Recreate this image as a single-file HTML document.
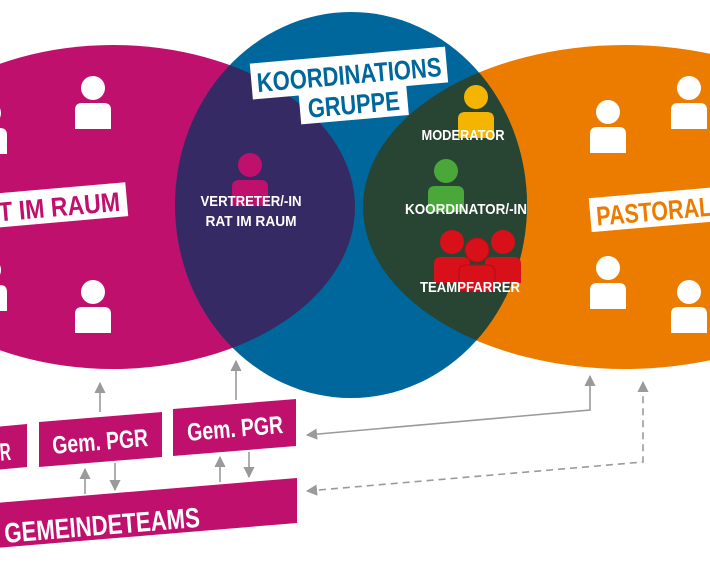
<!DOCTYPE html>
<html><head><meta charset="utf-8"><style>
html,body{margin:0;padding:0;background:#fff;}
svg{display:block;}
text{font-family:"Liberation Sans",sans-serif;font-weight:bold;}
</style></head><body>
<svg width="710" height="570" viewBox="0 0 710 570" xmlns="http://www.w3.org/2000/svg">
<defs>
<clipPath id="cb"><ellipse cx="351" cy="205" rx="176" ry="193"/></clipPath>
<marker id="ah" viewBox="0 0 10 10" refX="9" refY="5" markerWidth="7" markerHeight="7" orient="auto-start-reverse"><path d="M0,0 L10,5 L0,10 z" fill="#9a9a9a"/></marker>
<g id="p"><circle cx="0" cy="0" r="12"/><path d="M-18,41 V22 Q-18,15 -11,15 H11 Q18,15 18,22 V41 Z"/></g>
</defs>
<ellipse cx="113" cy="207" rx="242" ry="162" fill="#c0106e"/>
<ellipse cx="625" cy="207" rx="262" ry="162" fill="#ec7c00"/>
<ellipse cx="351" cy="205" rx="176" ry="193" fill="#00679c"/>
<g clip-path="url(#cb)">
<ellipse cx="113" cy="207" rx="242" ry="162" fill="#352a63"/>
<ellipse cx="625" cy="207" rx="262" ry="162" fill="#284534"/>
</g>
<g fill="#fff">
<use href="#p" x="93" y="88"/><use href="#p" x="93" y="292"/>
<use href="#p" x="-11" y="113"/><use href="#p" x="-11" y="270"/>
<use href="#p" x="608" y="112"/><use href="#p" x="689" y="88"/>
<use href="#p" x="608" y="268"/><use href="#p" x="689" y="292"/>
</g>
<g transform="rotate(-5 60 205)">
<rect x="-10" y="188" width="137" height="34" fill="#fff"/>
<text x="-2" y="216" font-size="27" fill="#c0106e" textLength="122" lengthAdjust="spacingAndGlyphs">T IM RAUM</text>
</g>
<g transform="rotate(-5 650 210)">
<rect x="590" y="193" width="140" height="34" fill="#fff"/>
<text x="596" y="221" font-size="27" fill="#ec7c00" textLength="116" lengthAdjust="spacingAndGlyphs">PASTORAL</text>
</g>
<g transform="rotate(-5 350 85)">
<rect x="252" y="55" width="196" height="36" fill="#fff"/>
<rect x="298" y="86" width="108" height="34" fill="#fff"/>
<text x="350" y="84" font-size="27" fill="#00679c" text-anchor="middle" textLength="185" lengthAdjust="spacingAndGlyphs">KOORDINATIONS</text>
<text x="352" y="114" font-size="27" fill="#00679c" text-anchor="middle" textLength="92" lengthAdjust="spacingAndGlyphs">GRUPPE</text>
</g>
<use href="#p" x="250" y="165" fill="#c0106e"/>
<use href="#p" x="476" y="97" fill="#f5b400"/>
<use href="#p" x="446" y="171" fill="#4aa83a"/>
<g fill="#d7101a"><use href="#p" x="452" y="242"/><use href="#p" x="503" y="242"/></g>
<use href="#p" x="477" y="250" fill="#d7101a" stroke="#b30d16" stroke-width="1"/>
<g fill="#fff" font-size="15" text-anchor="middle">
<text x="251" y="206" textLength="101" lengthAdjust="spacingAndGlyphs">VERTRETER/-IN</text>
<text x="251" y="226" textLength="91" lengthAdjust="spacingAndGlyphs">RAT IM RAUM</text>
<text x="463" y="140" textLength="83" lengthAdjust="spacingAndGlyphs">MODERATOR</text>
<text x="466" y="214" textLength="122" lengthAdjust="spacingAndGlyphs">KOORDINATOR/-IN</text>
<text x="470" y="292" textLength="100" lengthAdjust="spacingAndGlyphs">TEAMPFARRER</text>
</g>
<g fill="#c0106e">
<polygon points="-5,427 27,424 27,467 -5,470"/>
<polygon points="39,422 162,412 162,457 39,467"/>
<polygon points="173,409 296,399 296,446 173,456"/>
<polygon points="-5,503 297,478 297,523 -5,548"/>
</g>
<g fill="#fff" font-size="25">
<text x="0" y="460" transform="rotate(-4.7 10 455)" textLength="11" lengthAdjust="spacingAndGlyphs">R</text>
<text x="100" y="450" text-anchor="middle" transform="rotate(-4.7 100 440)" textLength="96" lengthAdjust="spacingAndGlyphs">Gem. PGR</text>
<text x="235" y="437" text-anchor="middle" transform="rotate(-4.7 234 428)" textLength="96" lengthAdjust="spacingAndGlyphs">Gem. PGR</text>
<text x="4" y="535" font-size="28" transform="rotate(-4.7 100 525)" textLength="196" lengthAdjust="spacingAndGlyphs">GEMEINDETEAMS</text>
</g>
<g stroke="#9a9a9a" stroke-width="1.6" fill="none">
<line x1="100" y1="412" x2="100" y2="383" marker-end="url(#ah)"/>
<line x1="236" y1="400" x2="236" y2="361" marker-end="url(#ah)"/>
<line x1="85" y1="494" x2="85" y2="469" marker-end="url(#ah)"/>
<line x1="115" y1="463" x2="115" y2="490" marker-end="url(#ah)"/>
<line x1="220" y1="482" x2="220" y2="457" marker-end="url(#ah)"/>
<line x1="249" y1="452" x2="249" y2="477" marker-end="url(#ah)"/>
<polyline points="307,435 590,410 590,376" marker-start="url(#ah)" marker-end="url(#ah)"/>
<polyline points="307,491 643,462 643,382" stroke-dasharray="7,5" marker-start="url(#ah)" marker-end="url(#ah)"/>
</g>
</svg>
</body></html>
